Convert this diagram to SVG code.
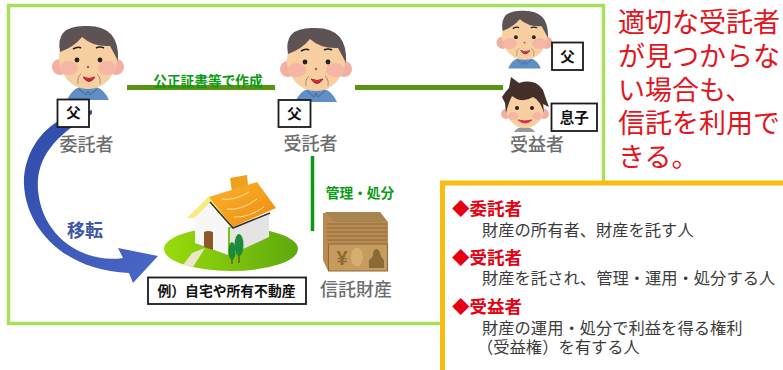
<svg xmlns="http://www.w3.org/2000/svg" width="783" height="370" viewBox="0 0 783 370">
<style>
text{font-family:"Noto Sans CJK JP","Noto Sans",sans-serif}
.lbl{font-size:18px;fill:#6e6e6e;font-weight:500;text-anchor:middle}
.tag{fill:#fff;stroke:#1a1a1a;stroke-width:1.8}
.tagt{font-size:14.500px;font-weight:700;fill:#111;text-anchor:middle}
.red{font-size:27px;fill:#e3141c}
.h{font-size:17.500px;font-weight:700;fill:#e60012}
.b{font-size:16.300px;font-weight:400;fill:#3c3c3c}
.g{fill:#0b9a14;font-weight:700;text-anchor:middle;font-size:13.700px}
</style>
<defs>
<linearGradient id="roof" x1="0" y1="0" x2="1" y2="1"><stop offset="0" stop-color="#fbb52c"/><stop offset="1" stop-color="#ee8a12"/></linearGradient>
<linearGradient id="lawn" x1="0" y1="0" x2="1" y2="0"><stop offset="0" stop-color="#98dc0c"/><stop offset="1" stop-color="#5fa80e"/></linearGradient>
<linearGradient id="arr" x1="0" y1="0" x2="1" y2="1"><stop offset="0" stop-color="#2f4aa8"/><stop offset="1" stop-color="#4a68c8"/></linearGradient>
<g id="man">
<path d="M-21 39Q-16 28 -8 26H8Q16 28 21 39Z" fill="#5f8fc4"/>
<path d="M-9 28L-2 34L0 30L2 34L9 28" fill="none" stroke="#3f6a98" stroke-width="1"/>
<circle cx="-28" cy="6" r="8" fill="#f2b0a0"/><circle cx="28" cy="6" r="8" fill="#f2b0a0"/>
<ellipse cx="0" cy="-3" rx="29" ry="31" fill="#f8cfa0"/>
<ellipse cx="-19" cy="7" rx="9" ry="7" fill="#f6b6a6"/><ellipse cx="19" cy="7" rx="9" ry="7" fill="#f6b6a6"/>
<path d="M-28 -9Q-33 -36 -2 -35Q32 -36 30 0Q26 -8 22 -15Q5 -14 -6 -24Q-14 -14 -28 -9Z" fill="#5e5354"/>
<path d="M-15 -12q5 -3 8 -1M8 -13q4 -2 8 0" fill="none" stroke="#222" stroke-width="1.600"/>
<circle cx="-11" cy="-1" r="2.400" fill="#222"/><circle cx="12" cy="-1" r="2.400" fill="#222"/>
<circle cx="0" cy="6" r="1.200" fill="#c0505a"/>
<path d="M-5 16Q1 25 7 16Q1 19 -5 16Z" fill="#d8203c" stroke="#b02038" stroke-width="1"/>
<path d="M-10 23Q-11 16 -7 13M12 23Q13 16 9 13" fill="none" stroke="#a89070" stroke-width="1"/>
</g>
</defs>
<rect x="8.500" y="5.500" width="595" height="318" fill="#fff" stroke="#a6e05c" stroke-width="3.500"/>

<g id="connectors">
<path d="M127 87.500H275M355 87.500H503" stroke="#5a9412" stroke-width="5" fill="none"/>
<path d="M312.500 156V231" stroke="#0a9a12" stroke-width="3.500" fill="none"/>
<path id="transfer" d="M92 110L60 120C32 136 23 165 24 185C26 225 60 270 129 273L133 283L158 256L118 248L123 258C85 264 42 238 38 190C36 162 50 138 92 114Z" fill="url(#arr)"/>
</g>

<g id="settlor">
<use href="#man" x="88" y="61"/>
<rect class="tag" x="57.500" y="99.500" width="31.500" height="27.500"/><text class="tagt" x="73.500" y="118">父</text>
<text class="lbl" x="86.500" y="151">委託者</text>
</g>
<g id="trustee">
<use href="#man" x="316" y="63"/>
<rect class="tag" x="278.500" y="100" width="32" height="27"/><text class="tagt" x="294.500" y="118.500">父</text>
<text class="lbl" x="310.500" y="150">受託者</text>
</g>
<g id="beneficiary">
<use href="#man" transform="translate(524.500 38) scale(.78)"/>
<rect class="tag" x="552" y="42.500" width="31" height="27.500"/><text class="tagt" x="567.500" y="61.500">父</text>
<path d="M514 132q3 -5 10 -5q8 0 11 5Z" fill="#9a9a9a"/>
<circle cx="506" cy="114" r="5" fill="#f2b0a0"/><circle cx="544" cy="114" r="5" fill="#f2b0a0"/>
<ellipse cx="525" cy="108" rx="19" ry="20" fill="#f8cfa0"/>
<ellipse cx="513" cy="116" rx="5" ry="4" fill="#f6b6a6"/><ellipse cx="537" cy="116" rx="5" ry="4" fill="#f6b6a6"/>
<path d="M502 97Q505 92 509 88L511 77L519 83Q535 78 543 90L546 99L549 107L543 104L544 113Q540 100 533 97Q522 104 512 96Q508 104 506 113L505 103Z" fill="#452f2a"/>
<circle cx="517" cy="108" r="2" fill="#222"/><circle cx="532" cy="108" r="2" fill="#222"/>
<path d="M518 120q7 6 14 0q-7 2 -14 0Z" fill="#d93048" stroke="#d93048"/>
<rect class="tag" x="551.500" y="103.500" width="45.500" height="27.500"/><text class="tagt" x="574.300" y="122.500">息子</text>
<text class="lbl" x="537" y="151">受益者</text>
</g>
<g id="edge-label-1"><text class="g" x="208" y="85.500">公正証書等で作成</text></g>
<g id="edge-label-2"><text class="g" x="360" y="198">管理・処分</text></g>
<g id="transfer-label"><text x="85" y="237" font-size="18" font-weight="700" fill="#3d56a6" text-anchor="middle">移転</text></g>

<g id="house">
<ellipse cx="231" cy="249" rx="67" ry="22" fill="url(#lawn)"/>
<path d="M183 265L192 253L205 248L193 267Z" fill="#ece6c8"/>
<path d="M195 217L210 203L228 227V255L195 243Z" fill="#f7f7f7"/>
<path d="M230 228L269 214V237L230 255Z" fill="#e4e4e4"/>
<path d="M204 232Q208 230 213 232V250L204 247Z" fill="#8c5a28"/>
<path d="M187 218L209 196L235 228L232 228L210 203L194 218Z" fill="#f7ea80"/>
<path d="M230 178L247 175L248 185L232 192Z" fill="#eea11e"/>
<path d="M209 197L257 182L276 208L233 227Z" fill="url(#roof)"/>
<path d="M222 199q12 2 27 -7M227 209q14 2 30 -10M234 217q14 1 30 -10" fill="none" stroke="#ffe3a0" stroke-width="1"/>
<path d="M210 202L233 228L270 213" fill="none" stroke="#332" stroke-width="1.500"/>
<path d="M232 256V264M239 250V263" stroke="#7a5a20" stroke-width="1.500"/>
<ellipse cx="232" cy="251" rx="3.500" ry="9" fill="#1d8a3a"/><ellipse cx="239" cy="245" rx="4.500" ry="11" fill="#1d8a3a"/>
<rect class="tag" x="148" y="277.500" width="158" height="26.500"/><text x="226.500" y="296" font-size="13.800" font-weight="700" fill="#111" text-anchor="middle">例）自宅や所有不動産</text>
</g>
<g id="trust-property">
<path d="M323 213L380 212L388 222V268L328 271L323 260Z" fill="#b98b52"/>
<path d="M325 212H380L387 222H334Z" fill="#a88450"/>
<path d="M327 224H387M327 228H387M327 232H387M327 236H387M327 240H387" stroke="#8a6a38" stroke-width="1"/>
<rect x="328.500" y="244" width="59" height="27" fill="#c79a5e" stroke="#8a6a38"/>
<text x="342" y="265" font-size="20" font-weight="700" style="font-family:'Liberation Sans',sans-serif" fill="#8a6a30" text-anchor="middle">¥</text>
<ellipse cx="357" cy="257" rx="6" ry="9.500" fill="#d4b070"/>
<path d="M369 268V260q5 -3 4 -8q3 -6 7 0q0 5 4 8v8Z" fill="#8a6a38"/>
<text class="lbl" x="356" y="296">信託財産</text>
</g>

<g id="note">
<rect x="442.500" y="183" width="360" height="200" fill="#fff" stroke="#fbbc11" stroke-width="5"/>
<text class="h"><tspan x="452" y="215">◆委託者</tspan><tspan class="b" x="482" y="236">財産の所有者、財産を託す人</tspan><tspan x="452" y="264">◆受託者</tspan><tspan class="b" x="482" y="284">財産を託され、管理・運用・処分する人</tspan><tspan x="452" y="313">◆受益者</tspan><tspan class="b" x="482" y="334">財産の運用・処分で利益を得る権利</tspan><tspan class="b" x="477" y="353">（受益権）を有する人</tspan></text>
</g>
<g id="callout">
<text class="red"><tspan x="618" y="32">適切な受託者</tspan><tspan x="618" y="66">が見つからな</tspan><tspan x="618" y="100">い場合も、</tspan><tspan x="618" y="133">信託を利用で</tspan><tspan x="618" y="167">きる。</tspan></text>
</g>
</svg>
